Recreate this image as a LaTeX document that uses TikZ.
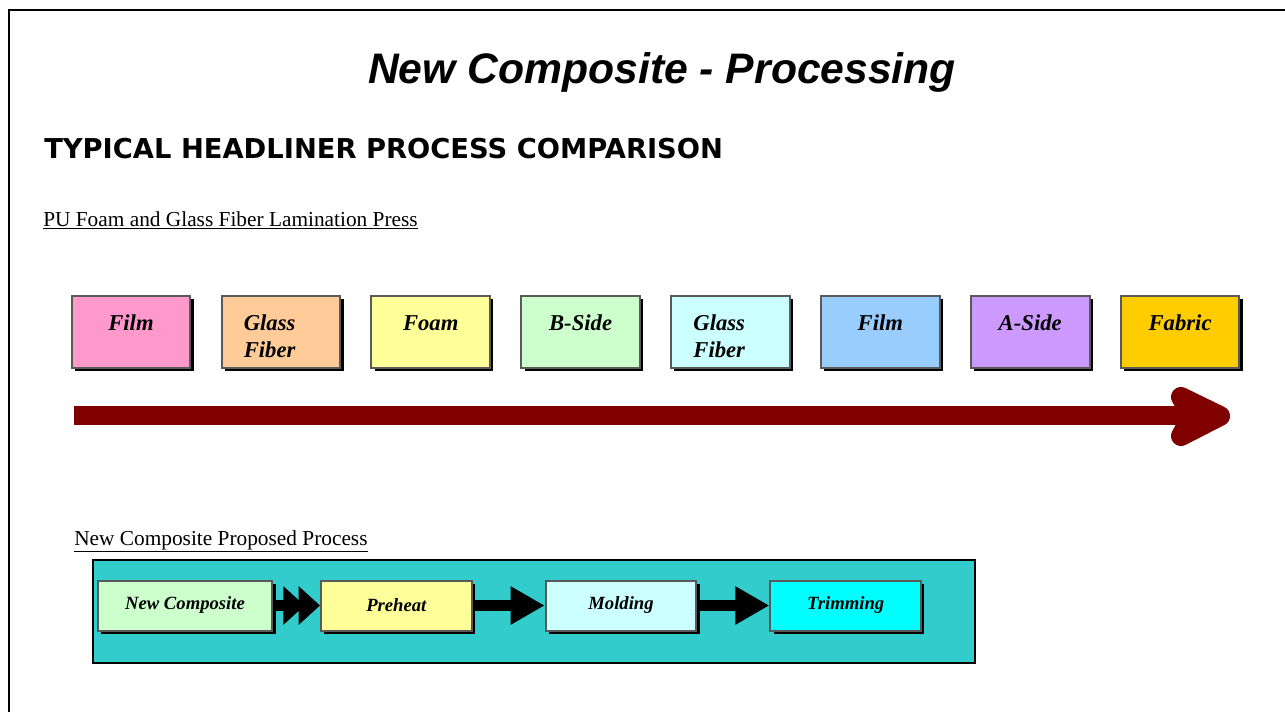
\documentclass[tikz,border=0pt]{standalone}
\usepackage{fontspec}
\setmainfont{Liberation Serif}
\newfontfamily\titlefont{Liberation Sans}
\newfontfamily\headfont{DejaVu Sans}
\usetikzlibrary{positioning,shadows,arrows.meta}

\definecolor{filmpink}{HTML}{FF99CC}
\definecolor{glassorange}{HTML}{FFCC99}
\definecolor{foamyellow}{HTML}{FFFF99}
\definecolor{bsidegreen}{HTML}{CCFFCC}
\definecolor{glasscyan}{HTML}{CCFFFF}
\definecolor{filmblue}{HTML}{99CCFF}
\definecolor{asideviolet}{HTML}{CC99FF}
\definecolor{fabricgold}{HTML}{FFCC00}
\definecolor{trimcyan}{HTML}{00FFFF}
\definecolor{panelteal}{HTML}{33CCCC}
\definecolor{barred}{HTML}{800000}

\begin{document}
\begin{tikzpicture}[
    x=0.75pt, y=-0.75pt,
    node distance=21.9pt,
    layer/.style={
        draw=black!65,
        line width=1.5pt,
        minimum width=89pt,
        minimum height=54pt,
        inner sep=0pt,
        drop shadow={shadow xshift=2.5pt, shadow yshift=-2.5pt,
            fill=black, opacity=1}
    },
    layertext/.style={
        inner sep=0pt,
        align=left,
        font=\fontsize{17}{20.25}\selectfont\bfseries\itshape
    },
    stepbox/.style={
        draw=black!65,
        line width=1.5pt,
        minimum width=113pt,
        minimum height=37.5pt,
        inner sep=0pt,
        font=\fontsize{14}{16}\selectfont\bfseries\itshape,
        drop shadow={shadow xshift=2.5pt, shadow yshift=-2.5pt,
            fill=black, opacity=1}
    },
    caption/.style={anchor=base west, inner sep=0pt,
        font=\fontsize{16}{19}\selectfont},
    flow/.style={line width=8.25pt,
        -{Triangle[length=25.5pt,width=27pt]}},
    doubleflow/.style={line width=8.25pt,
        -{Triangle[length=16pt,width=28pt,sep=-4.5pt]Triangle[length=16pt,width=28pt]}},
    bar/.style={draw=barred, line width=14.25pt}
]
\useasboundingbox (0,0) rectangle (1285,711);
\fill[white] (0,0) rectangle (1285,711);

% page frame
\draw[line width=1.5pt] (9,730) -- (9,10) -- (1300,10);

\node[anchor=base, inner sep=0pt,
    font=\titlefont\bfseries\itshape\fontsize{32}{38}\selectfont] (title)
    at (662,83) {New Composite - Processing};

\node[anchor=base west, inner sep=0pt,
    font=\headfont\bfseries\fontsize{20.5}{24}\selectfont] (heading)
    at (44,158) {TYPICAL HEADLINER PROCESS COMPARISON};

\node[caption] (presscap) at (43,226)
    {\underline{PU Foam and Glass Fiber Lamination Press}};

% lamination press layers
\node[layer, fill=filmpink] (film) at (131,331.5) {};
\node[layer, fill=glassorange, right=of film] (glass) {};
\node[layer, fill=foamyellow, right=of glass] (foam) {};
\node[layer, fill=bsidegreen, right=of foam] (bside) {};
\node[layer, fill=glasscyan, right=of bside] (glasstwo) {};
\node[layer, fill=filmblue, right=of glasstwo] (filmtwo) {};
\node[layer, fill=asideviolet, right=of filmtwo] (aside) {};
\node[layer, fill=fabricgold, right=of aside] (fabric) {};

\node[layertext, anchor=base] (filmlbl) at ([yshift=-27pt]film.north) {Film};
\node[layertext, anchor=base west] (glasslbl)
    at ([xshift=17.25pt, yshift=-47.25pt]glass.north west) {Glass\\Fiber};
\node[layertext, anchor=base] (foamlbl) at ([yshift=-27pt]foam.north) {Foam};
\node[layertext, anchor=base] (bsidelbl) at ([yshift=-27pt]bside.north) {B-Side};
\node[layertext, anchor=base west] (glasstwolbl)
    at ([xshift=17.25pt, yshift=-47.25pt]glasstwo.north west) {Glass\\Fiber};
\node[layertext, anchor=base] (filmtwolbl) at ([yshift=-27pt]filmtwo.north) {Film};
\node[layertext, anchor=base] (asidelbl) at ([yshift=-27pt]aside.north) {A-Side};
\node[layertext, anchor=base] (fabriclbl) at ([yshift=-27pt]fabric.north) {Fabric};

% direction bar
\coordinate (barstart) at (74,415);
\coordinate (barend) at (1200,415);
\coordinate (bartip) at (1220,416);
\coordinate (barupper) at (1181,397);
\coordinate (barlower) at (1181,436);
\coordinate (barnotch) at (1192,416);
\draw[bar] (barstart) -- (barend);
\draw[bar, line width=15pt, fill=barred, line join=round]
    (barupper) -- (bartip) -- (barlower) -- (barnotch) -- cycle;

\node[caption] (proposedcap) at (74,545)
    {\underline{New Composite Proposed Process}};

% proposed process
\draw[fill=panelteal, line width=1.5pt] (93,560) rectangle (975,663);

\node[stepbox, fill=bsidegreen, minimum width=131pt] (newcomp) at (185,605.5)
    {New Composite};
\node[stepbox, fill=foamyellow, right=35pt of newcomp] (preheat) {Preheat};
\node[stepbox, fill=glasscyan, right=54pt of preheat] (molding) {Molding};
\node[stepbox, fill=trimcyan, right=54pt of molding] (trimming) {Trimming};

\draw[doubleflow] (newcomp) -- (preheat);
\draw[flow] (preheat) -- (molding);
\draw[flow] (molding) -- (trimming);

\end{tikzpicture}
\end{document}
